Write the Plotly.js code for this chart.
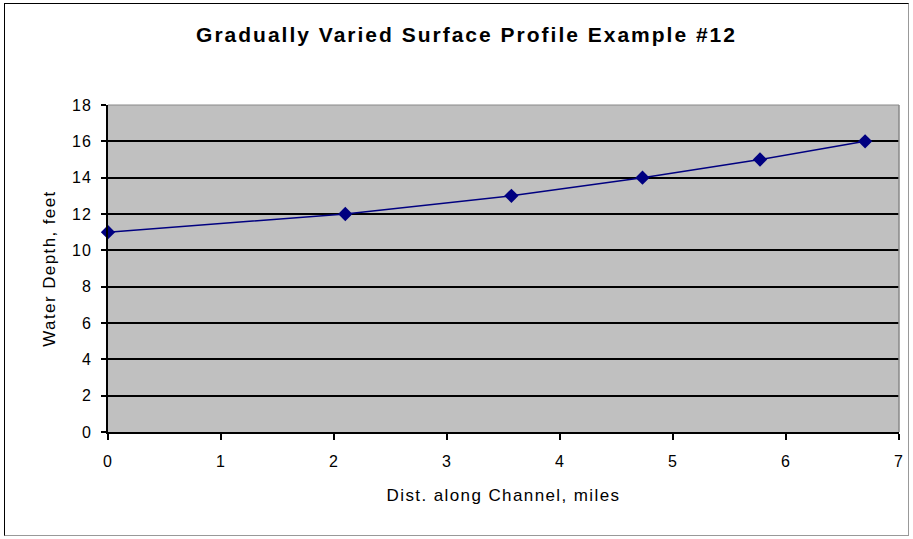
<!DOCTYPE html>
<html>
<head>
<meta charset="utf-8">
<script src="https://cdn.plot.ly/plotly-3.0.1.min.js"></script>
<style>
html,body{margin:0;padding:0;background:#fff;}
#frame{position:absolute;left:4px;top:3px;width:905px;height:533px;border:1px solid #000;border-bottom-color:#999;border-right-color:#999;box-sizing:border-box;}
#chart{position:absolute;left:0;top:0;width:913px;height:539px;}
#chart .gtitle{letter-spacing:2px;}
#chart .xtitle, #chart .ytitle{letter-spacing:1.4px;}
#chart .xtick text, #chart .ytick text{letter-spacing:1px;}
</style>
</head>
<body>
<div id="frame"></div>
<div id="chart"></div>
<script>
const distMiles = [0, 2.10, 3.57, 4.73, 5.77, 6.70];
const depthFeet = [11, 12, 13, 14, 15, 16];
const xTicks = [0, 1, 2, 3, 4, 5, 6, 7];
const yTicks = [0, 2, 4, 6, 8, 10, 12, 14, 16, 18];

const trace = {
  x: distMiles,
  y: depthFeet,
  type: 'scatter',
  mode: 'lines+markers',
  line: {color: '#000080', width: 1.5},
  marker: {symbol: 'diamond', size: 11, color: '#000080'},
  cliponaxis: false,
  hoverinfo: 'x+y'
};

const tickFont = {family: 'Liberation Sans, Arial, sans-serif', size: 16, color: '#000'};
const axisTitleFont = {family: 'Liberation Sans, Arial, sans-serif', size: 17, color: '#000'};

const layout = {
  width: 913,
  height: 539,
  margin: {l: 108, r: 14, t: 105, b: 107},
  paper_bgcolor: 'rgba(0,0,0,0)',
  plot_bgcolor: '#C0C0C0',
  showlegend: false,
  title: {
    text: '<b>Gradually Varied Surface Profile Example #12</b>',
    font: {family: 'Liberation Sans, Arial, sans-serif', size: 21, color: '#000'},
    x: 0.511, xanchor: 'center',
    y: 0.935, yanchor: 'middle'
  },
  xaxis: {
    range: [0, 7],
    tickvals: xTicks,
    ticktext: xTicks.map(String),
    showgrid: false,
    zeroline: false,
    showline: true,
    linecolor: '#000',
    linewidth: 2,
    ticks: 'outside',
    ticklen: 6,
    tickwidth: 2,
    tickcolor: '#000',
    tickfont: tickFont,
    ticklabelstandoff: 8,
    title: {text: 'Dist. along Channel, miles', font: axisTitleFont, standoff: 20}
  },
  yaxis: {
    range: [0, 18],
    tickvals: yTicks,
    ticktext: yTicks.map(String),
    showgrid: true,
    gridcolor: '#000',
    gridwidth: 2,
    zeroline: false,
    showline: true,
    linecolor: '#000',
    linewidth: 2,
    ticks: 'outside',
    ticklen: 5,
    tickwidth: 2,
    tickcolor: '#000',
    tickfont: tickFont,
    ticklabelstandoff: 6,
    title: {text: 'Water Depth, feet', font: axisTitleFont, standoff: 14}
  },
  shapes: [
    {type: 'line', xref: 'paper', yref: 'paper', x0: 1, x1: 1, y0: 0, y1: 1, line: {color: '#888', width: 1.5}},
    {type: 'line', xref: 'paper', yref: 'paper', x0: 0, x1: 1, y0: 1, y1: 1, line: {color: '#888', width: 1}}
  ]
};

Plotly.newPlot('chart', [trace], layout, {displayModeBar: false, staticPlot: true});
</script>
</body>
</html>
